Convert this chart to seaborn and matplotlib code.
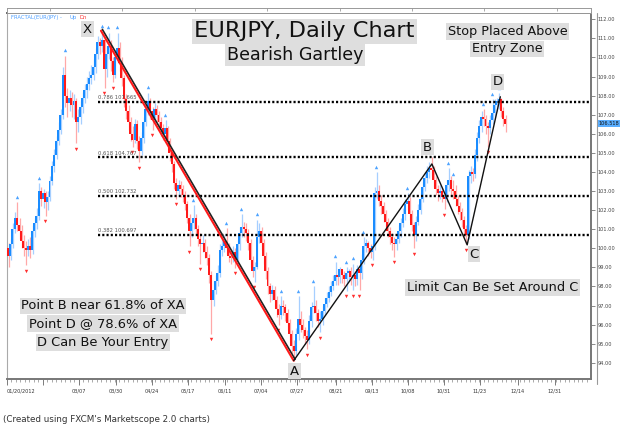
import numpy as np
import pandas as pd
import seaborn as sns
import matplotlib
matplotlib.use("Agg")
import matplotlib.pyplot as plt
from matplotlib import transforms
from matplotlib.lines import Line2D
from matplotlib.ticker import AutoMinorLocator, FuncFormatter

# EURJPY daily candles, Jan 20 2012 -> end of Nov 2012
# open of each candle is taken as the previous close
first_open = 100.0
closes = [
    99.6, 100.2, 101.0, 101.6, 101.2, 100.9, 100.4, 100.0, 99.9, 100.1,
    99.9, 100.9, 101.3, 101.7, 103.0, 102.6, 102.9, 102.4, 102.7, 103.5,
    104.3, 104.9, 105.6, 106.2, 107.0, 109.1, 108.0, 107.6, 107.9, 107.5,
    107.7, 106.6, 106.9, 107.4, 107.9, 108.3, 108.6, 108.9, 109.1, 109.5,
    110.2, 110.8, 110.6, 110.9, 109.4, 110.2, 110.6, 109.8, 109.1, 110.0,
    110.5, 109.7, 108.9, 107.8, 107.2, 106.6, 106.0, 105.7, 106.5, 105.6,
    105.1, 105.8, 106.6, 107.3, 107.7, 107.2, 106.7, 107.3, 107.0, 106.6,
    106.3, 106.0, 106.3, 105.6, 105.0, 104.4, 103.4, 103.0, 103.3, 103.1,
    102.8, 102.3, 101.6, 100.9, 101.3, 101.6, 101.0, 100.5, 100.2, 100.3,
    99.8, 99.5, 98.6, 97.3, 97.8, 98.3, 98.7, 99.9, 100.1, 100.4,
    100.0, 99.6, 99.5, 99.8, 99.4, 100.2, 100.8, 101.1, 101.0, 100.8,
    100.3, 99.4, 98.8, 99.0, 100.6, 100.9, 100.3, 99.6, 98.8, 98.0,
    97.6, 97.8, 97.3, 96.8, 96.5, 97.0, 96.9, 96.6, 96.1, 95.5,
    94.9, 94.6, 95.5, 96.3, 96.0, 95.7, 95.4, 95.2, 96.2, 96.9,
    97.0, 96.6, 96.2, 96.3, 96.7, 97.1, 97.4, 97.7, 98.0, 98.3,
    98.6, 98.5, 98.9, 98.6, 98.4, 98.7, 98.8, 98.5, 98.6, 98.4,
    98.9, 98.7, 99.4, 100.1, 100.3, 100.0, 99.8, 100.1, 102.9, 103.0,
    102.5, 102.2, 101.8, 101.4, 100.9, 100.6, 100.3, 100.2, 100.5, 100.9,
    101.3, 101.8, 102.3, 102.5, 101.8, 101.2, 100.7, 101.4, 102.0, 102.6,
    103.2, 103.7, 104.0, 104.2, 104.1, 103.6, 103.1, 102.9, 103.0, 102.7,
    102.6, 103.3, 103.6, 103.1, 103.0, 102.6, 102.2, 101.9, 101.5, 101.0,
    100.7, 103.8, 104.0, 103.9, 104.9, 105.8, 106.4, 106.9, 106.8, 106.4,
    106.3, 106.7, 107.1, 107.5, 107.7, 107.8, 107.2, 106.8, 106.52,
]
highs = [
    100.3, 100.5, 101.3, 101.9, 102.4, 101.6, 101.2, 100.7, 100.4, 100.5,
    100.6, 101.2, 101.6, 102.1, 103.4, 103.2, 103.1, 103.0, 103.0, 103.8,
    104.6, 105.2, 105.9, 106.6, 107.3, 109.5, 110.1, 108.4, 108.3, 108.2,
    108.1, 107.9, 107.3, 107.7, 108.2, 108.6, 109.0, 109.3, 109.6, 109.9,
    110.5, 111.1, 111.0, 111.36, 111.0, 110.6, 111.3, 110.9, 110.0, 110.4,
    111.3, 110.8, 110.0, 109.1, 108.1, 107.5, 106.9, 106.4, 106.8, 106.7,
    105.9, 106.1, 106.9, 107.6, 108.15, 107.9, 107.4, 107.6, 107.5, 107.2,
    106.9, 106.5, 106.7, 106.4, 105.8, 105.1, 104.6, 103.7, 103.6, 103.5,
    103.3, 103.0, 102.5, 101.8, 101.6, 102.27, 101.8, 101.2, 100.8, 100.7,
    100.5, 100.1, 99.7, 98.8, 98.3, 98.6, 99.1, 100.2, 100.5, 100.7,
    101.06, 100.3, 99.9, 100.1, 100.0, 100.5, 101.1, 101.8, 101.4, 101.3,
    101.0, 100.5, 99.6, 99.3, 101.5, 101.3, 101.1, 100.5, 99.8, 99.0,
    98.2, 98.1, 98.0, 97.5, 97.1, 97.5, 97.3, 97.1, 96.8, 96.3,
    95.7, 95.2, 95.8, 97.5, 96.7, 96.3, 95.9, 95.7, 96.5, 97.2,
    98.0, 97.3, 96.8, 96.7, 97.0, 97.4, 97.7, 98.0, 98.3, 98.6,
    99.3, 98.9, 99.0, 98.9, 98.8, 99.0, 98.9, 99.0, 99.2, 98.8,
    99.1, 99.0, 99.7, 100.57, 100.5, 100.4, 100.2, 100.3, 103.2, 104.0,
    103.3, 102.8, 102.4, 102.0, 101.6, 101.1, 100.8, 100.6, 100.8, 101.2,
    101.6, 102.1, 102.6, 102.9, 102.7, 102.0, 101.4, 101.7, 102.3, 102.9,
    103.5, 104.0, 104.3, 104.5, 104.8, 104.3, 103.8, 103.3, 103.3, 103.2,
    103.0, 103.6, 104.2, 103.8, 103.6, 103.3, 102.8, 102.4, 102.1, 101.7,
    101.2, 104.1, 104.3, 104.2, 105.2, 106.1, 106.7, 107.2, 107.3, 107.0,
    106.6, 107.0, 107.8, 107.8, 107.9, 108.12, 107.9, 107.4, 107.0,
]
lows = [
    99.0, 99.4, 100.0, 100.8, 100.9, 100.5, 100.0, 99.6, 99.1, 99.6,
    99.5, 99.7, 100.6, 101.0, 101.5, 102.2, 102.1, 101.7, 102.0, 102.5,
    103.3, 104.0, 104.7, 105.4, 106.0, 106.8, 107.4, 106.9, 107.2, 106.9,
    106.8, 105.5, 106.1, 106.5, 107.1, 107.6, 107.9, 108.3, 108.6, 108.8,
    109.2, 109.9, 110.2, 110.3, 108.4, 109.0, 109.9, 109.3, 108.7, 108.9,
    109.7, 109.3, 108.5, 107.4, 106.8, 106.2, 105.6, 105.3, 105.5, 105.2,
    104.5, 104.9, 105.5, 106.4, 107.0, 106.8, 106.2, 106.5, 106.6, 106.3,
    105.9, 105.7, 105.8, 105.2, 104.6, 104.0, 103.1, 102.6, 102.8, 102.7,
    102.4, 102.0, 101.3, 100.1, 100.6, 101.0, 100.7, 100.1, 99.2, 99.8,
    99.5, 99.1, 98.2, 95.5, 97.0, 97.6, 98.0, 98.5, 99.6, 99.8,
    99.7, 99.3, 99.2, 99.3, 98.96, 99.2, 99.9, 100.6, 100.6, 100.4,
    99.9, 99.0, 98.5, 98.25, 98.9, 100.3, 99.9, 99.2, 98.4, 97.6,
    97.2, 97.3, 96.9, 96.4, 96.0, 96.3, 96.5, 96.2, 95.7, 95.1,
    94.5, 94.11, 94.4, 95.2, 95.6, 95.3, 95.0, 94.7, 95.0, 95.9,
    96.6, 96.2, 95.9, 95.6, 96.0, 96.5, 96.9, 97.2, 97.5, 97.8,
    98.1, 98.1, 98.2, 98.2, 98.0, 97.76, 98.3, 98.1, 97.8, 98.0,
    98.1, 97.8, 98.4, 99.2, 99.8, 99.6, 99.5, 99.4, 99.9, 102.6,
    102.2, 101.8, 101.4, 101.0, 100.6, 100.2, 99.9, 99.56, 99.9, 100.3,
    100.6, 101.1, 101.5, 102.0, 101.5, 100.9, 100.0, 100.4, 101.2, 101.8,
    102.4, 103.0, 103.4, 103.7, 103.8, 103.2, 102.8, 102.5, 102.6, 102.4,
    102.05, 102.4, 103.0, 102.8, 102.6, 102.2, 101.8, 101.5, 101.1, 100.6,
    100.2, 100.5, 103.4, 103.5, 103.7, 104.6, 105.5, 106.1, 106.4, 106.0,
    105.3, 106.0, 106.5, 106.9, 107.2, 107.3, 106.9, 106.4, 106.1,
]

# fractal marks (candle index): blue ^ over the high, red v under the low
fractal_up = [4, 14, 26, 43, 46, 50, 64, 72, 85, 100, 107, 114, 125, 133, 140,
              150, 155, 158, 163, 169, 183, 194, 202, 204, 218, 222, 225]
fractal_dn = [8, 17, 31, 44, 48, 57, 60, 66, 77, 83, 88, 93, 104, 113, 124,
              137, 143, 155, 158, 161, 167, 177, 186, 200, 210, 220]

# Gartley points as drawn (candle index, price)
pattern_names = ["X", "A", "B", "C", "D"]
pattern_days = [42.6, 131.0, 194.4, 210.6, 225.8]
pattern_prices = [111.40, 94.11, 104.42, 100.18, 107.94]

# XA retracement levels
fib_ratios = [0.786, 0.618, 0.500, 0.382]
fib_prices = [107.665, 104.767, 102.732, 100.697]

date_labels = ["01/20/2012", "", "03/07", "03/30", "04/24", "05/17", "06/11", "07/04",
               "07/27", "08/21", "09/13", "10/08", "10/31", "11/23", "12/14", "12/31"]
date_days = [-0.5, 16.0, 32.5, 49.5, 66.0, 82.5, 99.5, 116.0,
             132.5, 150.4, 166.9, 183.4, 200.0, 216.5, 233.9, 250.9]
price_ticks = list(range(94, 113))
last_price = 106.518

sns.set_style("white")
plt.rcParams["font.family"] = ["DejaVu Sans"]

df = pd.DataFrame({"close": closes, "high": highs, "low": lows})
df["open"] = [first_open] + closes[:-1]
df["day"] = np.arange(len(df))
df["up"] = df["close"] >= df["open"]

W, H = 624, 428
fig = plt.figure(figsize=(W / 100, H / 100), dpi=100)
ax = fig.add_axes([7 / W, 1 - 379 / H, 584 / W, 366 / H])


def ftext(px, py, s, **kw):
    return fig.text(px / W, 1 - py / H, s, **kw)


# candles - light wick a little right of the body, like the Marketscope look
wick_col = np.where(df["up"], "#a6cfff", "#ffa8a8")
body_col = np.where(df["up"], "#1a8cff", "#ff1a1a")
ax.vlines(df["day"] + 0.25, df["low"], df["high"], colors=wick_col, lw=0.9, zorder=2)
body_h = (df["close"] - df["open"]).abs().clip(lower=0.06)
ax.bar(df["day"], body_h, bottom=df[["open", "close"]].min(axis=1), width=0.9,
       color=body_col, lw=0, zorder=3)

# fractals
up_pts = df.loc[fractal_up]
dn_pts = df.loc[fractal_dn]
sns.scatterplot(x=up_pts["day"], y=up_pts["high"] + 0.28, marker="^", s=6,
                color="#4da3ff", linewidth=0, ax=ax, zorder=4)
sns.scatterplot(x=dn_pts["day"], y=dn_pts["low"] - 0.28, marker="v", s=6,
                color="#ff3030", linewidth=0, ax=ax, zorder=4)

# fib retracement lines
x0 = pattern_days[0] - 1.4
for r, p in zip(fib_ratios, fib_prices):
    ax.hlines(p, x0, 267.4, colors="black", lw=1.7, linestyles=(0, (0.9, 0.9)), zorder=5)
    ax.annotate(f"{r:.3f} {p:.3f}", (x0, p), xytext=(0, 1.2), textcoords="offset points",
                fontsize=3.8, color="#555555", va="bottom", ha="left", zorder=6)

# XA leg: black + red double line, then the thin ABCD legs
off = transforms.offset_copy(ax.transData, fig=fig, x=1.0, y=1.0, units="points")
ax.plot(pattern_days[:2], pattern_prices[:2], color="#222222", lw=1.2, transform=off, zorder=6)
sns.lineplot(x=pattern_days[:2], y=pattern_prices[:2], color="#ff1a1a", lw=1.5,
             sort=False, ax=ax, zorder=7)
sns.lineplot(x=pattern_days[1:], y=pattern_prices[1:], color="#111111", lw=1.0,
             sort=False, ax=ax, zorder=7)

label_offsets = [(-9.7, 1.2), (0.6, -7.5), (-3.2, 11.9), (4.9, -6.6), (-2.0, 10.9)]
for name, d, p, o in zip(pattern_names, pattern_days, pattern_prices, label_offsets):
    ax.annotate(name, (d, p), xytext=o, textcoords="offset points", ha="center",
                va="center", fontsize=9.5, color="#111111", zorder=8,
                bbox=dict(boxstyle="square,pad=0.12", fc="#dddddd", ec="none"))

# axes styling
ax.set_xlim(-0.5, 267.4)
ax.set_ylim(93.15, 112.33)
ax.yaxis.tick_right()
ax.set_yticks(price_ticks)
ax.yaxis.set_major_formatter(FuncFormatter(lambda v, _: f"{v:.2f}"))
ax.tick_params(axis="y", labelsize=3.6, length=3, width=0.6, color="#777777",
               labelcolor="#444444", pad=2)
ax.set_xticks(date_days)
ax.set_xticklabels(date_labels)
ax.get_xticklabels()[0].set_ha("left")
ax.xaxis.set_minor_locator(AutoMinorLocator(8))
ax.tick_params(axis="x", which="major", labelsize=3.6, length=4, width=0.6,
               color="#666666", labelcolor="#333333", pad=3, bottom=True)
ax.tick_params(axis="x", which="minor", length=2, width=0.5, color="#888888", bottom=True)
ax.spines["top"].set_color("#333333")
ax.spines["top"].set_linewidth(1.2)
ax.spines["left"].set_color("#aaaaaa")
ax.spines["left"].set_linewidth(0.8)
for s in ["right", "bottom"]:
    ax.spines[s].set_color("#777777")
    ax.spines[s].set_linewidth(1.4)
ax.set_xlabel("")
ax.set_ylabel("")

# current price tag
tag_tr = transforms.blended_transform_factory(ax.transAxes, ax.transData)
ax.text(1.012, last_price, f"{last_price:.3f}", transform=tag_tr, fontsize=3.6,
        ha="left", va="center", color="#111111", clip_on=False,
        bbox=dict(boxstyle="square,pad=0.2", fc="#5aaeff", ec="none"))

fig.add_artist(Line2D([597 / W, 597 / W], [1 - 13 / H, 1 - 384 / H], color="#999999", lw=0.8))

# thin strip above the chart
strip = fig.add_axes([7 / W, 1 - 13.3 / H, 584 / W, 5.3 / H])
strip.set_xlim(0, 584)
strip.set_yticks([])
strip.set_xticks(np.arange(43, 584, 72.4))
strip.tick_params(axis="x", bottom=False, top=True, direction="in", length=2,
                  width=0.5, color="#888888", labelbottom=False)
for s in strip.spines.values():
    s.set_color("#999999")
    s.set_linewidth(0.7)

# texts
box = dict(boxstyle="square,pad=0.12", fc="#dedede", ec="none")
ftext(304.5, 37.3, "EURJPY, Daily Chart", fontsize=16.2, ha="center", va="baseline",
      color="#111111", bbox=box)
ftext(295, 60, "Bearish Gartley", fontsize=12.6, ha="center", va="baseline",
      color="#111111", bbox=box)
ftext(507.5, 35, "Stop Placed Above", fontsize=9.2, ha="center", va="baseline",
      color="#111111", bbox=box)
ftext(507, 52.3, "Entry Zone", fontsize=9.2, ha="center", va="baseline",
      color="#111111", bbox=box)
ftext(103, 309.3, "Point B near 61.8% of XA", fontsize=9.4, ha="center", va="baseline",
      color="#111111", bbox=box)
ftext(103, 327, "Point D @ 78.6% of XA", fontsize=9.4, ha="center", va="baseline",
      color="#111111", bbox=box)
ftext(103, 346, "D Can Be Your Entry", fontsize=9.4, ha="center", va="baseline",
      color="#111111", bbox=box)
ftext(492.5, 291, "Limit Can Be Set Around C", fontsize=9.3, ha="center", va="baseline",
      color="#111111", bbox=box)
ftext(3, 422, "(Created using FXCM's Marketscope 2.0 charts)", fontsize=6.3,
      ha="left", va="baseline", color="#333333")
ftext(11, 19, "FRACTAL(EUR/JPY) -", fontsize=3.8, ha="left", va="baseline", color="#4d9fff")
ftext(70, 19, "Up", fontsize=3.8, ha="left", va="baseline", color="#4d9fff")
ftext(79, 19, "Dn", fontsize=3.8, ha="left", va="baseline", color="#ff3030")

fig.savefig("out.png", dpi=100, facecolor="white")
